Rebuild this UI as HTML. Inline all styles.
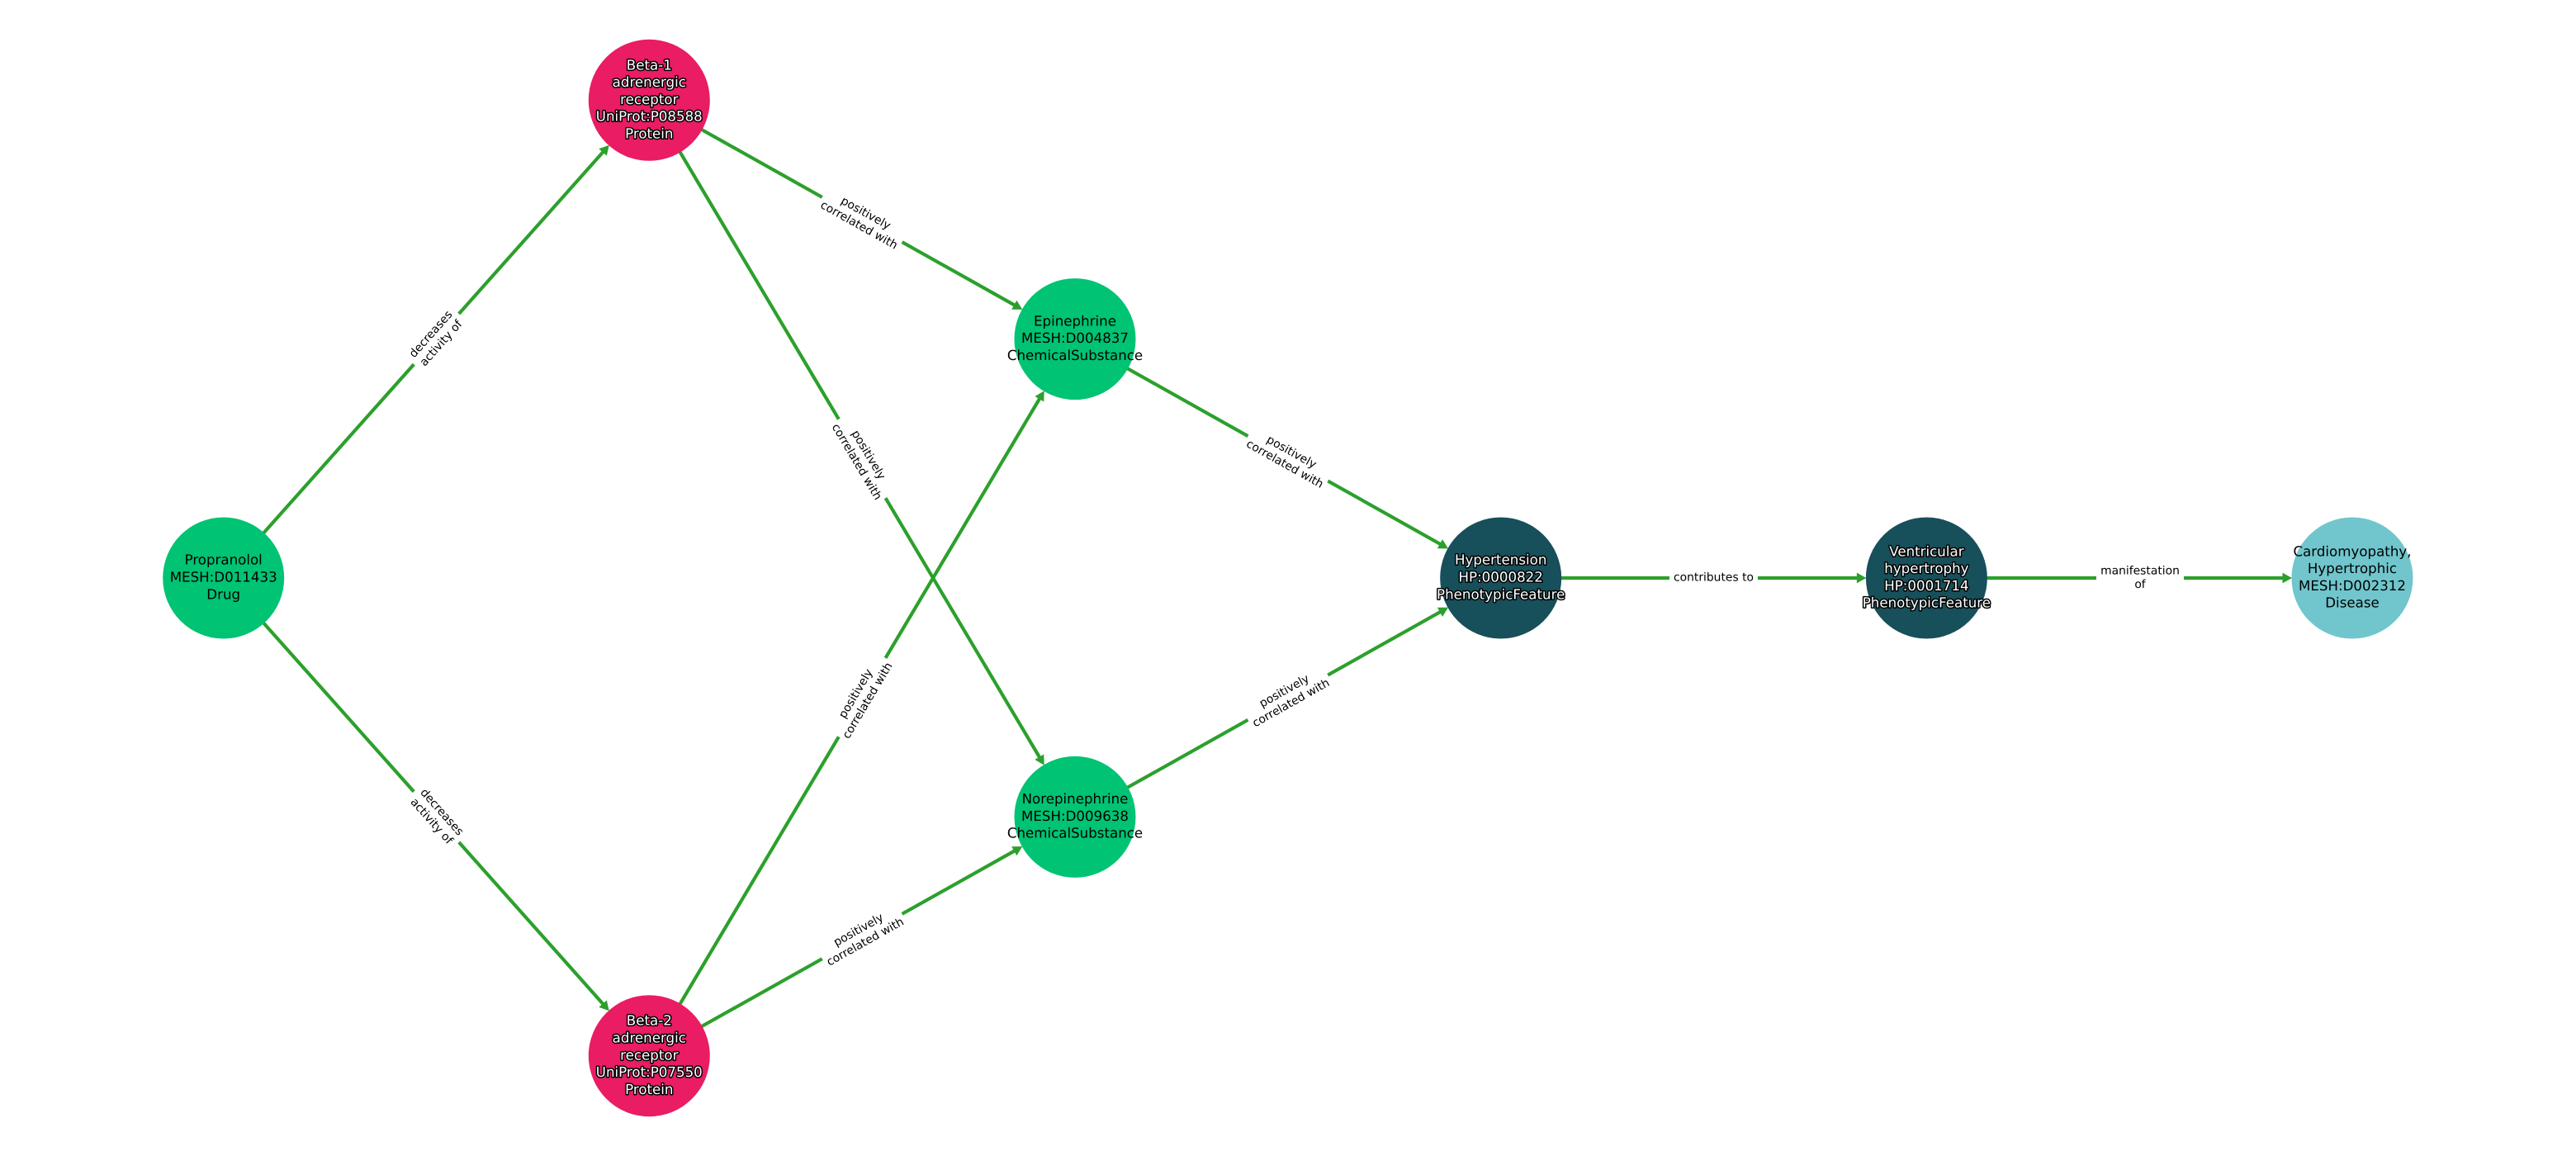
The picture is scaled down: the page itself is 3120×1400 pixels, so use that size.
<!DOCTYPE html>
<html><head><meta charset="utf-8"><title>Propranolol knowledge graph path</title>
<style>
html,body{margin:0;padding:0;background:#fff;width:3120px;height:1400px;overflow:hidden}
svg{display:block}
text{font-family:"DejaVu Sans","Liberation Sans",sans-serif;text-anchor:middle;text-rendering:geometricPrecision;transform:translateY(-0.9px)}
.n{font-size:16.67px;fill:#000}
.h{font-size:16.67px;fill:#fff;stroke:#000;stroke-width:3px;paint-order:stroke;stroke-linejoin:round}
.l{font-size:13.89px;fill:#000}
.e{stroke:#2ca02c;stroke-width:4.17px;fill:none;marker-end:url(#a)}
</style></head><body>
<svg xmlns="http://www.w3.org/2000/svg" width="3120" height="1400" viewBox="0 0 3120 1400">
<defs><marker id="a" markerUnits="userSpaceOnUse" markerWidth="24" markerHeight="24" refX="2" refY="12" orient="auto" overflow="visible"><path d="M1 6.5 L11 12 L1 17.5Z" fill="#2ca02c" stroke="#2ca02c" stroke-width="1"/></marker></defs>
<rect width="3120" height="1400" fill="#fff"/>
<line class="e" x1="270.7" y1="700" x2="731.1" y2="183.3"/>
<line class="e" x1="270.7" y1="700" x2="731.1" y2="1216.7"/>
<line class="e" x1="786.3" y1="121.3" x2="1229.6" y2="370"/>
<line class="e" x1="786.3" y1="121.3" x2="1259.6" y2="918"/>
<line class="e" x1="786.3" y1="1278.7" x2="1259.6" y2="482"/>
<line class="e" x1="786.3" y1="1278.7" x2="1229.6" y2="1030"/>
<line class="e" x1="1302" y1="410.6" x2="1745.3" y2="659.4"/>
<line class="e" x1="1302" y1="989.4" x2="1745.3" y2="740.6"/>
<line class="e" x1="1817.7" y1="700" x2="2250.4" y2="700"/>
<line class="e" x1="2333.4" y1="700" x2="2766" y2="700"/>

<g transform="translate(528.5 410.6) rotate(-48.3)"><rect x="-41" y="-20" width="82" height="40" fill="#fff"/><text class="l" y="-3.7">decreases</text><text class="l" y="12.9">activity of</text></g>
<g transform="translate(528.5 989.4) rotate(48.3)"><rect x="-41" y="-20" width="82" height="40" fill="#fff"/><text class="l" y="-3.7">decreases</text><text class="l" y="12.9">activity of</text></g>
<g transform="translate(1044.2 266) rotate(29.3)"><rect x="-55.5" y="-20" width="111" height="40" fill="#fff"/><text class="l" y="-3.7">positively</text><text class="l" y="12.9">correlated with</text></g>
<g transform="translate(1044.2 555.4) rotate(59.3)"><rect x="-55.5" y="-20" width="111" height="40" fill="#fff"/><text class="l" y="-3.7">positively</text><text class="l" y="12.9">correlated with</text></g>
<g transform="translate(1044.2 844.6) rotate(-59.3)"><rect x="-55.5" y="-20" width="111" height="40" fill="#fff"/><text class="l" y="-3.7">positively</text><text class="l" y="12.9">correlated with</text></g>
<g transform="translate(1044.2 1134) rotate(-29.3)"><rect x="-55.5" y="-20" width="111" height="40" fill="#fff"/><text class="l" y="-3.7">positively</text><text class="l" y="12.9">correlated with</text></g>
<g transform="translate(1559.9 555.3) rotate(29.3)"><rect x="-55.5" y="-20" width="111" height="40" fill="#fff"/><text class="l" y="-3.7">positively</text><text class="l" y="12.9">correlated with</text></g>
<g transform="translate(1559.9 844.7) rotate(-29.3)"><rect x="-55.5" y="-20" width="111" height="40" fill="#fff"/><text class="l" y="-3.7">positively</text><text class="l" y="12.9">correlated with</text></g>
<g transform="translate(2075.5 700)"><rect x="-53.5" y="-12" width="107" height="24" fill="#fff"/><text class="l" y="4.6">contributes to</text></g>
<g transform="translate(2592 700)"><rect x="-53" y="-20" width="106" height="40" fill="#fff"/><text class="l" y="-3.7">manifestation</text><text class="l" y="12.9">of</text></g>

<circle cx="270.7" cy="700" r="73.5" fill="#00c373"/>
<circle cx="786.3" cy="121.3" r="73.5" fill="#e91c64"/>
<circle cx="786.3" cy="1278.7" r="73.5" fill="#e91c64"/>
<circle cx="1302" cy="410.6" r="73.5" fill="#00c373"/>
<circle cx="1302" cy="989.4" r="73.5" fill="#00c373"/>
<circle cx="1817.7" cy="700" r="73.5" fill="#174f5a"/>
<circle cx="2333.4" cy="700" r="73.5" fill="#174f5a"/>
<circle cx="2849" cy="700" r="73.5" fill="#70c6cc"/>

<text class="n" x="270.7" y="684.6">Propranolol</text><text class="n" x="270.7" y="705.4">MESH:D011433</text><text class="n" x="270.7" y="726.2">Drug</text>

<text class="h" x="786.3" y="85.2">Beta-1</text><text class="h" x="786.3" y="106">adrenergic</text><text class="h" x="786.3" y="126.8">receptor</text><text class="h" x="786.3" y="147.6">UniProt:P08588</text><text class="h" x="786.3" y="168.4">Protein</text>

<text class="h" x="786.3" y="1242.6">Beta-2</text><text class="h" x="786.3" y="1263.4">adrenergic</text><text class="h" x="786.3" y="1284.2">receptor</text><text class="h" x="786.3" y="1305">UniProt:P07550</text><text class="h" x="786.3" y="1325.8">Protein</text>

<text class="n" x="1302" y="395.2">Epinephrine</text><text class="n" x="1302" y="416">MESH:D004837</text><text class="n" x="1302" y="436.8">ChemicalSubstance</text>
<text class="n" x="1302" y="974">Norepinephrine</text><text class="n" x="1302" y="994.8">MESH:D009638</text><text class="n" x="1302" y="1015.6">ChemicalSubstance</text>

<text class="h" x="1817.7" y="684.6">Hypertension</text><text class="h" x="1817.7" y="705.4">HP:0000822</text><text class="h" x="1817.7" y="726.2">PhenotypicFeature</text>

<text class="h" x="2333.4" y="674.2">Ventricular</text><text class="h" x="2333.4" y="695">hypertrophy</text><text class="h" x="2333.4" y="715.8">HP:0001714</text><text class="h" x="2333.4" y="736.6">PhenotypicFeature</text>

<text class="n" x="2849" y="674.2">Cardiomyopathy,</text><text class="n" x="2849" y="695">Hypertrophic</text><text class="n" x="2849" y="715.8">MESH:D002312</text><text class="n" x="2849" y="736.6">Disease</text>
</svg>
</body></html>
